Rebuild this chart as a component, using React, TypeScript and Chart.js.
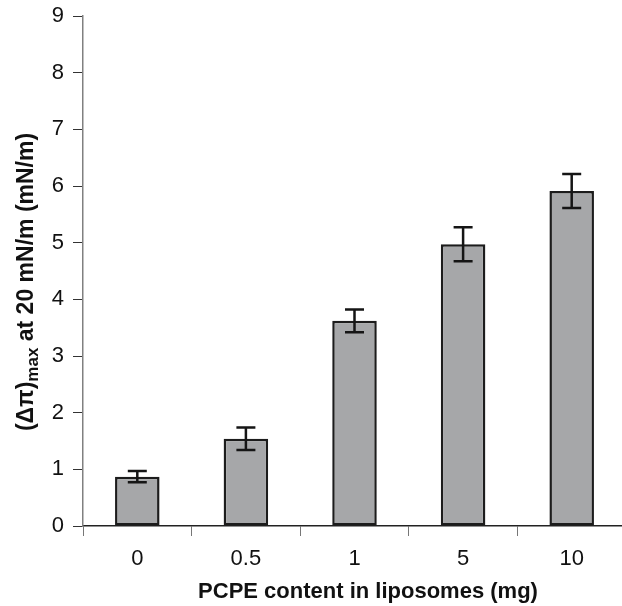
import { useEffect, useRef } from 'react';
import { Chart, registerables } from 'chart.js';

Chart.register(...registerables);

const categories = ['0', '0.5', '1', '5', '10'];
const means = [0.87, 1.54, 3.62, 4.97, 5.91];
const errors = [0.1, 0.2, 0.2, 0.3, 0.3];
const yMin = 0;
const yMax = 9;
const yStep = 1;
const xTitle = 'PCPE content in liposomes (mg)';
const yTitleMain1 = '(\u0394\u03c0)';
const yTitleSub = 'max';
const yTitleMain2 = ' at 20 mN/m (mN/m)';

const FONT = '"Liberation Sans", Arial, Helvetica, sans-serif';

const errorBarPlugin = {
  id: 'errorBars',
  afterDatasetsDraw(chart: any) {
    const ctx = chart.ctx;
    const meta = chart.getDatasetMeta(0);
    const y = chart.scales.y;
    ctx.save();
    ctx.strokeStyle = '#151515';
    ctx.lineWidth = 2.5;
    meta.data.forEach((el: any, i: number) => {
      const top = y.getPixelForValue(means[i] + errors[i]);
      const bot = y.getPixelForValue(means[i] - errors[i]);
      const half = 9.5;
      ctx.beginPath();
      ctx.moveTo(el.x, top);
      ctx.lineTo(el.x, bot);
      ctx.moveTo(el.x - half, top);
      ctx.lineTo(el.x + half, top);
      ctx.moveTo(el.x - half, bot);
      ctx.lineTo(el.x + half, bot);
      ctx.stroke();
    });
    ctx.restore();
  },
};

const titlesPlugin = {
  id: 'customTitles',
  afterDraw(chart: any) {
    const ctx = chart.ctx;
    ctx.save();
    ctx.fillStyle = '#111';
    // x title
    ctx.font = `bold 22px ${FONT}`;
    ctx.textAlign = 'left';
    ctx.textBaseline = 'alphabetic';
    const xw = ctx.measureText(xTitle).width;
    ctx.fillText(xTitle, 368 - xw / 2, 598);
    // y title (rotated, with subscript)
    const mainFont = `bold 23px ${FONT}`;
    const subFont = `bold 17px ${FONT}`;
    ctx.font = mainFont;
    const w1 = ctx.measureText(yTitleMain1).width;
    const w3 = ctx.measureText(yTitleMain2).width;
    ctx.font = subFont;
    const w2 = ctx.measureText(yTitleSub).width;
    const total = w1 + w2 + w3;
    ctx.translate(33, 282);
    ctx.rotate(-Math.PI / 2);
    let x = -total / 2;
    ctx.font = mainFont;
    ctx.fillText(yTitleMain1, x, 0);
    x += w1;
    ctx.font = subFont;
    ctx.fillText(yTitleSub, x, 5);
    x += w2;
    ctx.font = mainFont;
    ctx.fillText(yTitleMain2, x, 0);
    ctx.restore();
  },
};

export default function App() {
  const ref = useRef<HTMLCanvasElement | null>(null);
  useEffect(() => {
    if (!ref.current) return;
    const chart = new Chart(ref.current, {
      type: 'bar',
      data: {
        labels: categories,
        datasets: [
          {
            data: means,
            backgroundColor: '#a6a7a9',
            borderColor: '#1c1c1c',
            borderWidth: 2.5,
            borderSkipped: false,
            barPercentage: 0.41,
            categoryPercentage: 1,
          },
        ],
      },
      options: {
        responsive: false,
        animation: false,
        layout: { padding: { left: 0, top: 16, right: 0, bottom: 0 } },
        plugins: {
          legend: { display: false },
          tooltip: { enabled: false },
          title: { display: false },
        },
        scales: {
          x: {
            offset: true,
            afterFit: (s: any) => {
              s.height = 80;
            },
            grid: {
              display: true,
              drawOnChartArea: false,
              offset: true,
              tickLength: 10,
              color: '#777',
              lineWidth: 1,
            },
            border: { display: true, color: '#222', width: 1.5 },
            ticks: {
              color: '#111',
              font: { family: FONT, size: 22 },
              padding: 10,
              maxRotation: 0,
            },
          },
          y: {
            min: yMin,
            max: yMax,
            afterFit: (s: any) => {
              s.width = 83;
              s.paddingTop = 0;
              s.paddingBottom = 0;
            },
            grid: {
              display: true,
              drawOnChartArea: false,
              tickLength: 10,
              color: '#333',
              lineWidth: 1,
            },
            border: { display: true, color: '#808080', width: 1.5 },
            ticks: {
              stepSize: yStep,
              color: '#111',
              font: { family: FONT, size: 22 },
              padding: 9,
            },
          },
        },
      },
      plugins: [errorBarPlugin, titlesPlugin],
    });
    return () => chart.destroy();
  }, []);
  return (
    <div style={{ position: 'fixed', left: 0, top: 0, width: 622, height: 606, overflow: 'hidden', background: '#fff' }}>
      <canvas ref={ref} width={626} height={606} style={{ display: 'block' }} />
    </div>
  );
}
